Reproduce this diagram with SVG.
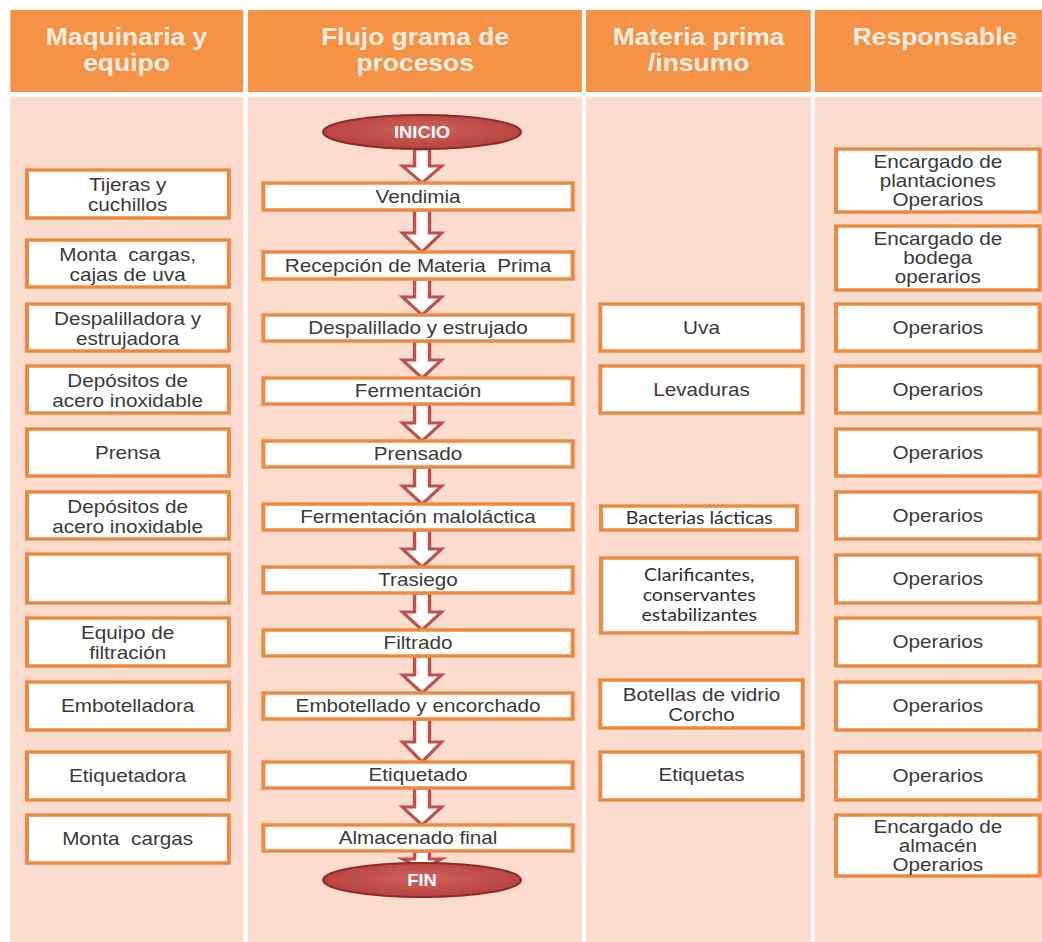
<svg xmlns="http://www.w3.org/2000/svg" width="1042" height="942" viewBox="0 0 1042 942">
  <defs>
    <style>
      .hdr { fill: #F49248; }
      .body { fill: #FBDCCF; }
      .htxt { font-family: "Liberation Sans", Arial, sans-serif; font-weight: bold; font-size: 23px; fill: #FCEEDF; text-anchor: middle; }
      .box { fill: #FFFFFF; stroke: #EE8A40; stroke-width: 3.5; }
      .t { font-family: "Liberation Sans", Arial, sans-serif; font-size: 18px; fill: #3a3a3a; text-anchor: middle; }
      .c { font-family: Lato, "Open Sans", sans-serif; font-size: 17px; fill: #2e2e2e; text-anchor: middle; }
      .term { fill: url(#termFill); stroke: #8E2C2A; stroke-width: 2; }
      .ttxt { font-family: "Liberation Sans", Arial, sans-serif; font-weight: bold; font-size: 16px; fill: #FFFFFF; text-anchor: middle; }
      .arrow { fill: #FFFFFF; stroke: #C0504D; stroke-width: 3; stroke-linejoin: miter; }
    </style>
    <radialGradient id="termFill" cx="0.5" cy="0.45" r="0.6">
      <stop offset="0" stop-color="#D0625E"/>
      <stop offset="1" stop-color="#B2403D"/>
    </radialGradient>
  </defs>

  <rect width="1042" height="942" fill="#FFFFFF"/>

  <!-- the whole sheet is laid out 906 units wide and stretched to 1042 px -->
  <g transform="scale(1.15 1)">

    <!-- column headers -->
    <g id="headers">
      <rect class="hdr" x="9" y="10" width="202.5" height="82"/>
      <rect class="hdr" x="215.5" y="10" width="290.5" height="82"/>
      <rect class="hdr" x="509.5" y="10" width="195.5" height="82"/>
      <rect class="hdr" x="708.5" y="10" width="200" height="82"/>
      <text class="htxt" x="110" y="45">Maquinaria y</text>
      <text class="htxt" x="110" y="71">equipo</text>
      <text class="htxt" x="361" y="45">Flujo grama de</text>
      <text class="htxt" x="361" y="71">procesos</text>
      <text class="htxt" x="607.5" y="45">Materia prima</text>
      <text class="htxt" x="607.5" y="71">/insumo</text>
      <text class="htxt" x="813" y="45">Responsable</text>
    </g>

    <!-- column bodies -->
    <g id="lanes">
      <rect class="body" x="9" y="97" width="202.5" height="845"/>
      <rect class="body" x="215.5" y="97" width="290.5" height="845"/>
      <rect class="body" x="509.5" y="97" width="195.5" height="845"/>
      <rect class="body" x="708.5" y="97" width="200" height="845"/>
    </g>

    <!-- connectors: block arrows between process steps -->
    <g id="connectors">
      <path class="arrow" d="M360.5,149 H373.5 V166 H384 L367,183 L350,166 H360.5 Z"/>
      <path class="arrow" d="M360.5,210 H373.5 V233 H384 L367,252 L350,233 H360.5 Z"/>
      <path class="arrow" d="M360.5,279 H373.5 V297 H384 L367,315 L350,297 H360.5 Z"/>
      <path class="arrow" d="M360.5,341 H373.5 V360 H384 L367,378 L350,360 H360.5 Z"/>
      <path class="arrow" d="M360.5,404 H373.5 V423 H384 L367,441 L350,423 H360.5 Z"/>
      <path class="arrow" d="M360.5,467 H373.5 V486 H384 L367,504 L350,486 H360.5 Z"/>
      <path class="arrow" d="M360.5,530 H373.5 V549 H384 L367,567 L350,549 H360.5 Z"/>
      <path class="arrow" d="M360.5,593 H373.5 V612 H384 L367,630 L350,612 H360.5 Z"/>
      <path class="arrow" d="M360.5,656 H373.5 V675 H384 L367,693 L350,675 H360.5 Z"/>
      <path class="arrow" d="M360.5,719 H373.5 V742 H384 L367,762 L350,742 H360.5 Z"/>
      <path class="arrow" d="M360.5,788 H373.5 V807 H384 L367,825 L350,807 H360.5 Z"/>
      <path class="arrow" d="M360.5,851 H373.5 V859 H384 L367,869 L350,859 H360.5 Z"/>
    </g>

    <!-- process flow -->
    <g id="inicio">
      <ellipse class="term" cx="367" cy="132" rx="86" ry="17"/>
      <text class="ttxt" x="367" y="138">INICIO</text>
    </g>
    <g id="p-vendimia">
      <rect class="box" x="229" y="183" width="269" height="27"/>
      <text class="t" x="363.5" y="203">Vendimia</text>
    </g>
    <g id="p-recepcion">
      <rect class="box" x="229" y="252" width="269" height="27"/>
      <text class="t" x="363.5" y="272" xml:space="preserve">Recepción de Materia  Prima</text>
    </g>
    <g id="p-despalillado">
      <rect class="box" x="229" y="315" width="269" height="26"/>
      <text class="t" x="363.5" y="334">Despalillado y estrujado</text>
    </g>
    <g id="p-fermentacion">
      <rect class="box" x="229" y="378" width="269" height="26"/>
      <text class="t" x="363.5" y="397">Fermentación</text>
    </g>
    <g id="p-prensado">
      <rect class="box" x="229" y="441" width="269" height="26"/>
      <text class="t" x="363.5" y="460">Prensado</text>
    </g>
    <g id="p-malolactica">
      <rect class="box" x="229" y="504" width="269" height="26"/>
      <text class="t" x="363.5" y="523">Fermentación maloláctica</text>
    </g>
    <g id="p-trasiego">
      <rect class="box" x="229" y="567" width="269" height="26"/>
      <text class="t" x="363.5" y="586">Trasiego</text>
    </g>
    <g id="p-filtrado">
      <rect class="box" x="229" y="630" width="269" height="26"/>
      <text class="t" x="363.5" y="649">Filtrado</text>
    </g>
    <g id="p-embotellado">
      <rect class="box" x="229" y="693" width="269" height="26"/>
      <text class="t" x="363.5" y="712">Embotellado y encorchado</text>
    </g>
    <g id="p-etiquetado">
      <rect class="box" x="229" y="762" width="269" height="26"/>
      <text class="t" x="363.5" y="781">Etiquetado</text>
    </g>
    <g id="p-almacenado">
      <rect class="box" x="229" y="825" width="269" height="26"/>
      <text class="t" x="363.5" y="844">Almacenado final</text>
    </g>
    <g id="fin">
      <ellipse class="term" cx="367" cy="880" rx="86" ry="17"/>
      <text class="ttxt" x="367" y="886">FIN</text>
    </g>

    <!-- machinery and equipment -->
    <g id="m-tijeras">
      <rect class="box" x="23.5" y="170" width="175.5" height="48"/>
      <text class="t" x="111" y="191">Tijeras y</text>
      <text class="t" x="111" y="211">cuchillos</text>
    </g>
    <g id="m-montacargas-cajas">
      <rect class="box" x="23.5" y="240" width="175.5" height="47"/>
      <text class="t" x="111" y="261" xml:space="preserve">Monta  cargas,</text>
      <text class="t" x="111" y="281">cajas de uva</text>
    </g>
    <g id="m-despalilladora">
      <rect class="box" x="23.5" y="304" width="175.5" height="47"/>
      <text class="t" x="111" y="325">Despalilladora y</text>
      <text class="t" x="111" y="345">estrujadora</text>
    </g>
    <g id="m-depositos-1">
      <rect class="box" x="23.5" y="366" width="175.5" height="47"/>
      <text class="t" x="111" y="387">Depósitos de</text>
      <text class="t" x="111" y="407">acero inoxidable</text>
    </g>
    <g id="m-prensa">
      <rect class="box" x="23.5" y="429" width="175.5" height="47"/>
      <text class="t" x="111" y="459">Prensa</text>
    </g>
    <g id="m-depositos-2">
      <rect class="box" x="23.5" y="492" width="175.5" height="47"/>
      <text class="t" x="111" y="513">Depósitos de</text>
      <text class="t" x="111" y="533">acero inoxidable</text>
    </g>
    <g id="m-vacio">
      <rect class="box" x="23.5" y="554" width="175.5" height="49"/>
    </g>
    <g id="m-filtracion">
      <rect class="box" x="23.5" y="618" width="175.5" height="48"/>
      <text class="t" x="111" y="639">Equipo de</text>
      <text class="t" x="111" y="659">filtración</text>
    </g>
    <g id="m-embotelladora">
      <rect class="box" x="23.5" y="682" width="175.5" height="48"/>
      <text class="t" x="111" y="712">Embotelladora</text>
    </g>
    <g id="m-etiquetadora">
      <rect class="box" x="23.5" y="752" width="175.5" height="48"/>
      <text class="t" x="111" y="782">Etiquetadora</text>
    </g>
    <g id="m-montacargas">
      <rect class="box" x="23.5" y="815" width="175.5" height="48"/>
      <text class="t" x="111" y="845" xml:space="preserve">Monta  cargas</text>
    </g>

    <!-- raw materials and supplies -->
    <g id="i-uva">
      <rect class="box" x="522" y="304" width="176" height="47"/>
      <text class="t" x="610" y="334">Uva</text>
    </g>
    <g id="i-levaduras">
      <rect class="box" x="522" y="366" width="176" height="47"/>
      <text class="t" x="610" y="396">Levaduras</text>
    </g>
    <g id="i-bacterias">
      <rect class="box" x="522.5" y="506" width="170.5" height="24"/>
      <text class="c" x="608" y="524">Bacterias lácticas</text>
    </g>
    <g id="i-clarificantes">
      <rect class="box" x="522.5" y="558" width="170.5" height="75"/>
      <text class="c" x="608" y="581">Clarificantes,</text>
      <text class="c" x="608" y="601">conservantes</text>
      <text class="c" x="608" y="621">estabilizantes</text>
    </g>
    <g id="i-botellas">
      <rect class="box" x="522" y="680" width="176" height="48"/>
      <text class="t" x="610" y="701">Botellas de vidrio</text>
      <text class="t" x="610" y="721">Corcho</text>
    </g>
    <g id="i-etiquetas">
      <rect class="box" x="522" y="752" width="176" height="48"/>
      <text class="t" x="610" y="781">Etiquetas</text>
    </g>

    <!-- people in charge -->
    <g id="r-plantaciones">
      <rect class="box" x="727" y="149" width="177" height="63"/>
      <text class="t" x="815.5" y="168">Encargado de</text>
      <text class="t" x="815.5" y="187">plantaciones</text>
      <text class="t" x="815.5" y="206">Operarios</text>
    </g>
    <g id="r-bodega">
      <rect class="box" x="727" y="226" width="177" height="64"/>
      <text class="t" x="815.5" y="245">Encargado de</text>
      <text class="t" x="815.5" y="264">bodega</text>
      <text class="t" x="815.5" y="283">operarios</text>
    </g>
    <g id="r-despalillado">
      <rect class="box" x="727" y="304" width="177" height="47"/>
      <text class="t" x="815.5" y="334">Operarios</text>
    </g>
    <g id="r-fermentacion">
      <rect class="box" x="727" y="366" width="177" height="47"/>
      <text class="t" x="815.5" y="396">Operarios</text>
    </g>
    <g id="r-prensado">
      <rect class="box" x="727" y="429" width="177" height="47"/>
      <text class="t" x="815.5" y="459">Operarios</text>
    </g>
    <g id="r-malolactica">
      <rect class="box" x="727" y="492" width="177" height="47"/>
      <text class="t" x="815.5" y="522">Operarios</text>
    </g>
    <g id="r-trasiego">
      <rect class="box" x="727" y="555" width="177" height="48"/>
      <text class="t" x="815.5" y="585">Operarios</text>
    </g>
    <g id="r-filtrado">
      <rect class="box" x="727" y="618" width="177" height="48"/>
      <text class="t" x="815.5" y="648">Operarios</text>
    </g>
    <g id="r-embotellado">
      <rect class="box" x="727" y="682" width="177" height="48"/>
      <text class="t" x="815.5" y="712">Operarios</text>
    </g>
    <g id="r-etiquetado">
      <rect class="box" x="727" y="752" width="177" height="48"/>
      <text class="t" x="815.5" y="782">Operarios</text>
    </g>
    <g id="r-almacen">
      <rect class="box" x="727" y="815" width="177" height="61"/>
      <text class="t" x="815.5" y="833">Encargado de</text>
      <text class="t" x="815.5" y="852">almacén</text>
      <text class="t" x="815.5" y="871">Operarios</text>
    </g>
  </g>
</svg>
